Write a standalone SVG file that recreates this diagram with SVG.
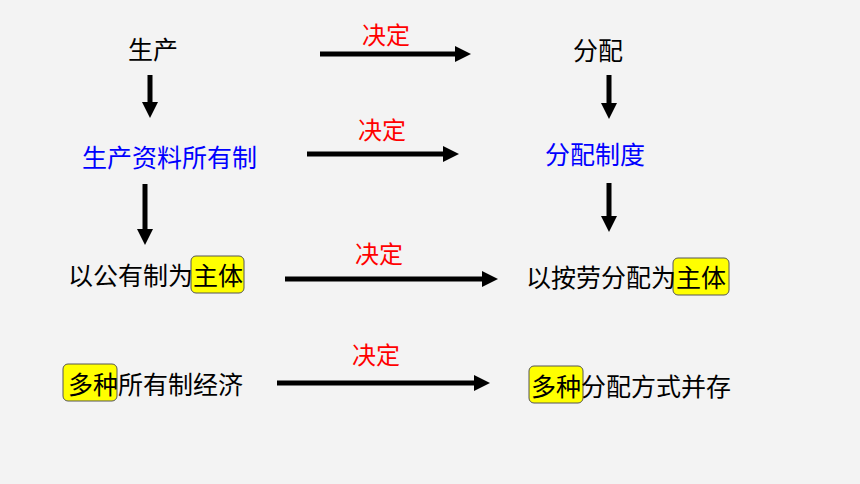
<svg xmlns="http://www.w3.org/2000/svg" width="860" height="484" viewBox="0 0 860 484">
<style>
text{font-family:"Noto Sans CJK SC","Noto Sans",sans-serif;font-size:25px;fill:#000}
.blue{fill:#0000ff}
.red{fill:#ff0000;font-size:24px}
.hl{fill:#ffff00;stroke:#555;stroke-width:1}
.ln{stroke:#000;stroke-width:5;fill:none}
</style>
<defs>
<marker id="ah" markerUnits="userSpaceOnUse" viewBox="0 0 16 16" refX="0" refY="8" markerWidth="16" markerHeight="16" orient="auto">
<path d="M0,0 L16,8 L0,16 Z" fill="#000"/>
</marker>
</defs>
<rect width="860" height="484" fill="#f3f3f3"/>
<g id="connectors">
<line class="ln" x1="320" y1="54" x2="455" y2="54" marker-end="url(#ah)"/>
<line class="ln" x1="307" y1="154" x2="443" y2="154" marker-end="url(#ah)"/>
<line class="ln" x1="285" y1="279" x2="482" y2="279" marker-end="url(#ah)"/>
<line class="ln" x1="277" y1="383" x2="474" y2="383" marker-end="url(#ah)"/>
<line class="ln" x1="150" y1="75" x2="150" y2="102" marker-end="url(#ah)"/>
<line class="ln" x1="145" y1="184" x2="145" y2="229" marker-end="url(#ah)"/>
<line class="ln" x1="609" y1="75" x2="609" y2="103" marker-end="url(#ah)"/>
<line class="ln" x1="609" y1="183" x2="609" y2="216" marker-end="url(#ah)"/>
<text class="red" x="362" y="44">决定</text>
<text class="red" x="358" y="139">决定</text>
<text class="red" x="355" y="263">决定</text>
<text class="red" x="352" y="364">决定</text>
</g>
<g id="n-shengchan"><text x="128" y="59">生产</text></g>
<g id="n-fenpei"><text x="573" y="60">分配</text></g>
<g id="n-suoyouzhi"><text class="blue" x="82" y="167">生产资料所有制</text></g>
<g id="n-fenpeizhidu"><text class="blue" x="545" y="164">分配制度</text></g>
<g id="n-gongyou">
<rect class="hl" x="191" y="256" width="53" height="37" rx="5"/>
<text x="68" y="285">以公有制为主体</text>
</g>
<g id="n-anlao">
<rect class="hl" x="673" y="258" width="56" height="37" rx="5"/>
<text x="526" y="287">以按劳分配为主体</text>
</g>
<g id="n-duozhong-suoyou">
<rect class="hl" x="63" y="364" width="54" height="37" rx="5"/>
<text x="68" y="394">多种所有制经济</text>
</g>
<g id="n-duozhong-fenpei">
<rect class="hl" x="529" y="366" width="54" height="37" rx="5"/>
<text x="531" y="396">多种分配方式并存</text>
</g>
</svg>
